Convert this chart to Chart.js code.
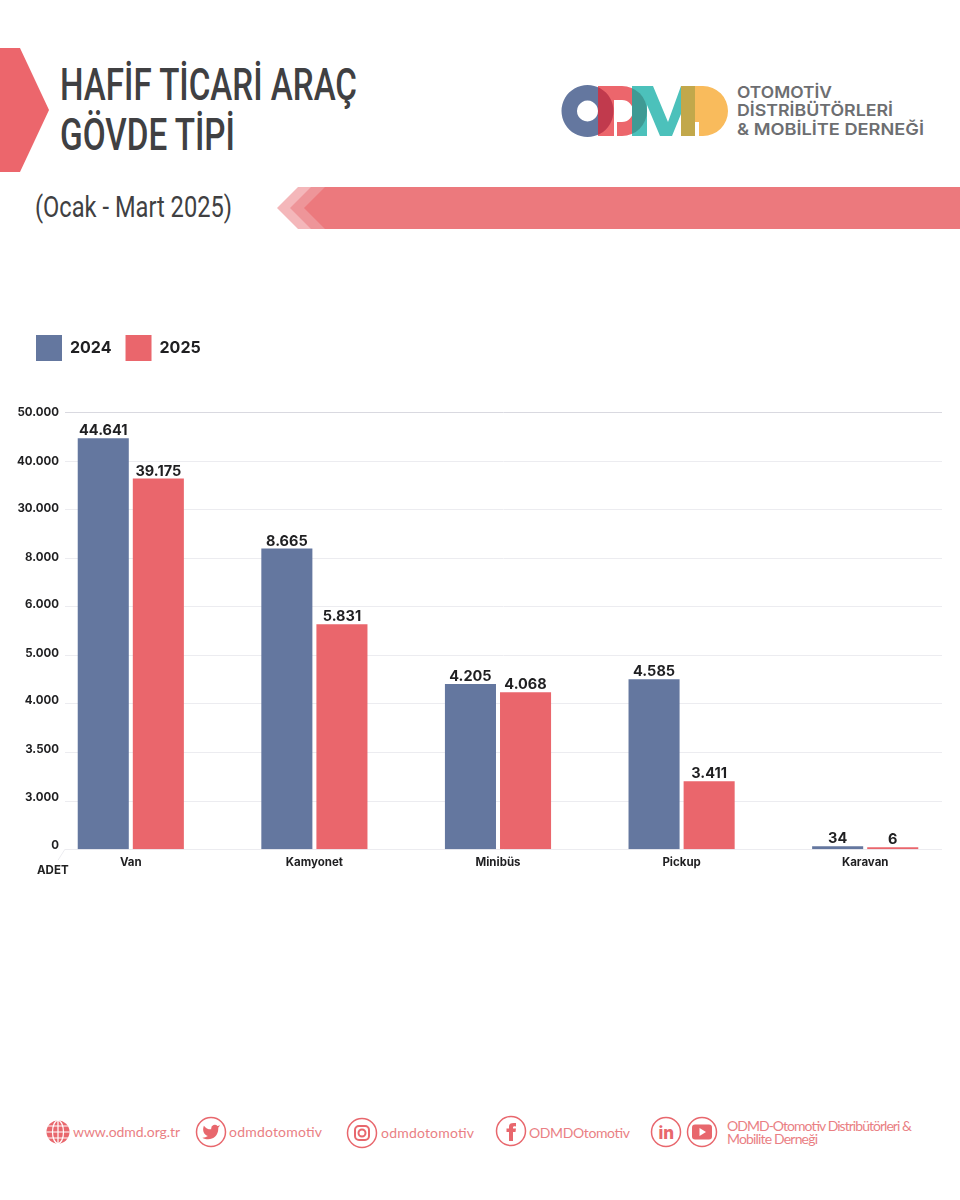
<!DOCTYPE html>
<html lang="tr">
<head>
    <meta charset="UTF-8">
    <title>Hafif Ticari Araç Gövde Tipi</title>
    <script src="https://cdn.jsdelivr.net/npm/chart.js"></script>
    <style>
        html, body { margin: 0; padding: 0; background: #fff; }
        #page { position: relative; width: 960px; height: 1200px; overflow: hidden; }
        #art { position: absolute; left: 0; top: 0; }
        #chartBox { position: absolute; left: 0; top: 321px; width: 960px; height: 570px; }
        .title { font-family: Roboto, sans-serif; font-weight: 500; fill: #404042; }
        .sub { font-family: Roboto, sans-serif; font-weight: 400; fill: #404042; }
        .logoText { font-family: Inter, sans-serif; font-weight: 600; font-size: 16.5px; fill: #6d6e71; }
        .foot { font-family: Lato, sans-serif; font-weight: 400; font-size: 14px; fill: #ea7f84; }
        .ink { fill: none; stroke: #e8676d; stroke-width: 1.5; }
        #adet { position: absolute; left: 37px; top: 863px; font: 700 11.5px Inter, sans-serif; color: #222; }
    </style>
</head>
<body>
<div id="page">
    <svg id="art" width="960" height="1200" viewBox="0 0 960 1200">
        <defs>
            <clipPath id="redD"><path d="M598 86H622A25 25 0 0 1 622 136H598z"/></clipPath>
        </defs>
        <!-- header -->
        <polygon points="0,48 20,48 49,110 20,172 0,172" fill="#ec666c"/>
        <text class="title" x="60" y="100" font-size="45" textLength="297" lengthAdjust="spacingAndGlyphs">HAFİF TİCARİ ARAÇ</text>
        <text class="title" x="60" y="150" font-size="45" textLength="175" lengthAdjust="spacingAndGlyphs">GÖVDE TİPİ</text>
        <text class="sub" x="35" y="217" font-size="29" textLength="197" lengthAdjust="spacingAndGlyphs">(Ocak - Mart 2025)</text>

        <polygon points="277,208 298,187 340,187 340,229 298,229" fill="#f4b7ba"/>
        <polygon points="290,208 311,187 340,187 340,229 311,229" fill="#ee9599"/>
        <polygon points="304,208 325,187 960,187 960,229 325,229" fill="#ec797d"/>

        <!-- logo -->
        <path fill-rule="evenodd" fill="#64779f" d="M587.500 85a26 26 0 1 0 0.010 0zM587.500 100.500a10.500 10.500 0 1 1 -0.010 0z"/>
        <path fill-rule="evenodd" fill="#ec666c" d="M598 86H622A25 25 0 0 1 622 136H617V122H622A10.500 10.500 0 0 0 622 100H614V136H598z"/>
        <path clip-path="url(#redD)" fill-rule="evenodd" fill="#c13a4d" d="M587.500 85a26 26 0 1 0 0.010 0zM587.500 100.500a10.500 10.500 0 1 1 -0.010 0z"/>
        <polygon fill="#4cc1bb" points="632,86 653,86 668,122 681,86 695,86 695,136 681,136 681,114 672,136 660,136 647,105 647,136 632,136"/>
        <polygon clip-path="url(#redD)" fill="#3f9a94" points="632,86 653,86 668,122 681,86 695,86 695,136 681,136 681,114 672,136 660,136 647,105 647,136 632,136"/>
        <path fill="#f9bb5c" d="M695 86H703A25 25 0 0 1 703 136H699V122H695z"/>
        <rect x="681" y="86" width="14" height="50" fill="#c2a84b"/>
        <text class="logoText" x="737" y="98" textLength="95" lengthAdjust="spacingAndGlyphs">OTOMOTİV</text>
        <text class="logoText" x="737" y="116" textLength="156" lengthAdjust="spacingAndGlyphs">DİSTRİBÜTÖRLERİ</text>
        <text class="logoText" x="737" y="135" textLength="187" lengthAdjust="spacingAndGlyphs">&amp; MOBİLİTE DERNEĞİ</text>

        <!-- footer -->
        <g class="ink">
            <circle cx="58" cy="1132" r="11.500" fill="#e8676d" stroke="none"/>
            <g stroke="#fff" stroke-width="1.200">
                <ellipse cx="58" cy="1132" rx="5.500" ry="11.500"/>
                <path d="M58 1120.500V1143.500M46.500 1132H69.500M48 1126H68M48 1138H68"/>
            </g>
            <circle cx="211" cy="1132" r="14.500"/>
            <circle cx="362" cy="1133" r="14.500"/>
            <rect x="355" y="1126" width="14" height="14" rx="4" stroke-width="2"/>
            <circle cx="362" cy="1133" r="3.500" stroke-width="2"/>
            <circle cx="511" cy="1131" r="14.500"/>
            <circle cx="666" cy="1132" r="14.500"/>
            <circle cx="702" cy="1132" r="14.500"/>
        </g>
        <path transform="translate(201.500,1122.500) scale(0.8)" fill="#e8676d" d="M23 3a10.900 10.900 0 0 1-3 1.500 4.500 4.500 0 0 0-7.900 3v1A10.700 10.700 0 0 1 3 4s-4 9 5 13a11.600 11.600 0 0 1-7 2c9 5 20 0 20-11.500a4.500 4.500 0 0 0-.1-.8A7.700 7.700 0 0 0 23 3z"/>
        <path fill="#e8676d" d="M509 1141V1132H506.500V1128.500H509V1126.500C509 1123.500 511 1122.500 516 1123V1126.500C513 1126 513 1126.500 513 1128.500H516L515.500 1132H513V1141z"/>
        <text x="658.500" y="1139" font-family="Inter, sans-serif" font-weight="800" font-size="17" fill="#e8676d">in</text>
        <rect x="692" y="1124.500" width="20" height="15" rx="3" fill="#e8676d"/>
        <polygon points="699.500,1128 699.500,1136 706,1132" fill="#fff"/>
        <text class="foot" x="73" y="1137" textLength="107">www.odmd.org.tr</text>
        <text class="foot" x="229" y="1137" textLength="93">odmdotomotiv</text>
        <text class="foot" x="381" y="1138" textLength="93">odmdotomotiv</text>
        <text class="foot" x="529" y="1138" textLength="101">ODMDOtomotiv</text>
        <text class="foot" x="727" y="1131" font-size="12" textLength="185">ODMD-Otomotiv Distribütörleri &amp;</text>
        <text class="foot" x="727" y="1144" font-size="12" textLength="91">Mobilite Derneği</text>
    </svg>

    <div id="chartBox"><canvas id="bodyChart" width="960" height="570"></canvas></div>
    <div id="adet">ADET</div>
</div>

<script>
    const categories = ["Van", "Kamyonet", "Minibüs", "Pickup", "Karavan"];
    const yTickLabels = ["0", "3.000", "3.500", "4.000", "5.000", "6.000", "8.000", "30.000", "40.000", "50.000"];

    // numbers printed over the bars
    const values2024 = [44641, 8665, 4205, 4585, 34];
    const values2025 = [39175, 5831, 4068, 3411, 6];

    // the source axis is not to scale, its ticks are evenly spaced. Bar heights
    // are read off the picture in tick steps (1 = one row of the axis)
    const heights2024 = [8.46, 6.19, 3.40, 3.50, 0.06];
    const heights2025 = [7.63, 4.63, 3.23, 1.40, 0.04];

    const BLUE = "#64779f";
    const RED = "#ea666c";
    const INK = "#1f1f21";
    const FONT = "Inter, sans-serif";

    function dotted(n) {
        return String(n).replace(/\B(?=(\d{3})+$)/g, ".");
    }

    // leaves the empty band between legend and plot
    const legendGap = {
        id: "legendGap",
        beforeInit(chart) {
            const fit = chart.legend.fit;
            chart.legend.fit = function () {
                fit.call(this);
                this.height += 41;
            };
        }
    };

    // grid runs from x=65 to x=942 and the tick labels sit inside the chart area,
    // the native ones would be clipped to the scale box
    const shortGrid = {
        id: "shortGrid",
        beforeDatasetsDraw(chart) {
            const ctx = chart.ctx;
            const y = chart.scales.y;
            ctx.save();
            ctx.lineWidth = 1;
            ctx.font = "700 11.5px " + FONT;
            ctx.fillStyle = INK;
            ctx.textAlign = "right";
            ctx.textBaseline = "middle";
            y.ticks.forEach(t => {
                const py = Math.round(y.getPixelForValue(t.value)) + 0.5;
                ctx.strokeStyle = t.value === 9 ? "#d9d9e0" : "#ececf0";
                ctx.beginPath();
                ctx.moveTo(65, py);
                ctx.lineTo(942, py);
                ctx.stroke();
                ctx.fillText(yTickLabels[t.value], 59, py - (9 - t.value) * 4 / 9);
            });
            const py0 = y.getPixelForValue(0);
            ctx.strokeStyle = "#ececf0";
            ctx.beginPath();
            ctx.moveTo(65, py0);
            ctx.lineTo(58, py0 + 11);
            ctx.stroke();
            ctx.restore();
        }
    };

    const barLabels = {
        id: "barLabels",
        afterDatasetsDraw(chart) {
            const ctx = chart.ctx;
            ctx.save();
            ctx.font = "700 14.5px " + FONT;
            ctx.fillStyle = INK;
            ctx.textAlign = "center";
            ctx.textBaseline = "bottom";
            chart.data.datasets.forEach((ds, i) => {
                chart.getDatasetMeta(i).data.forEach((bar, j) => {
                    ctx.fillText(dotted(ds.printed[j]), bar.x, bar.y);
                });
            });
            ctx.restore();
        }
    };

    new Chart(document.getElementById("bodyChart"), {
        type: "bar",
        data: {
            labels: categories,
            datasets: [
                { label: "2024", data: heights2024, printed: values2024, backgroundColor: BLUE },
                { label: "2025", data: heights2025, printed: values2025, backgroundColor: RED }
            ]
        },
        options: {
            responsive: false,
            animation: false,
            devicePixelRatio: 1,
            layout: { padding: { left: 22, right: 3, top: 0, bottom: 16 } },
            datasets: { bar: { categoryPercentage: 0.6, barPercentage: 0.927 } },
            plugins: {
                tooltip: { enabled: false },
                legend: {
                    align: "start",
                    labels: {
                        boxWidth: 26,
                        boxHeight: 26,
                        padding: 14,
                        color: INK,
                        font: { family: FONT, weight: "700", size: 16 }
                    }
                }
            },
            scales: {
                x: {
                    grid: { display: false, drawTicks: false },
                    border: { display: false },
                    ticks: { padding: 6, color: INK, font: { family: FONT, weight: "700", size: 11.5 } }
                },
                y: {
                    min: 0,
                    max: 9,
                    afterFit(scale) { scale.width = 17; },
                    grid: { display: false, drawTicks: false },
                    border: { display: false },
                    ticks: { stepSize: 1, display: false }
                }
            }
        },
        plugins: [legendGap, shortGrid, barLabels]
    });
</script>
</body>
</html>
